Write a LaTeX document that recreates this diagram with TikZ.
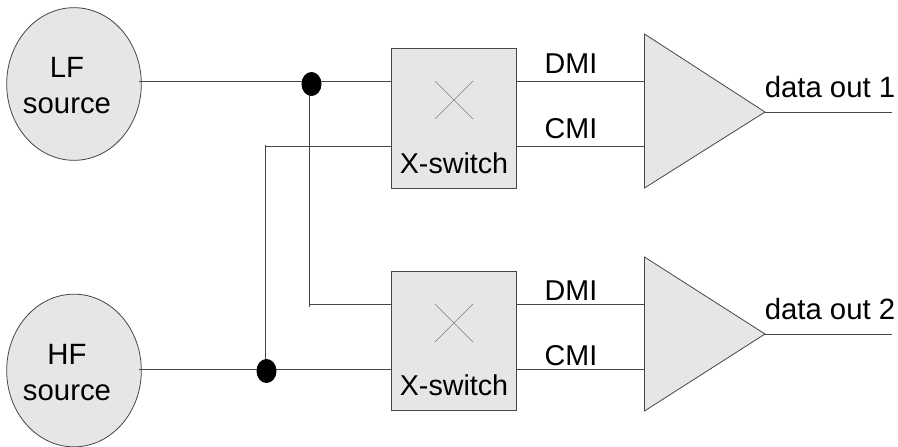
\documentclass[tikz,border=0pt]{standalone}
\usepackage{fontspec}
\setmainfont{Liberation Sans}
\usetikzlibrary{shapes.geometric}
\definecolor{fillg}{RGB}{230,230,230}
\definecolor{edgeg}{RGB}{70,70,70}
\tikzset{
 src/.style={ellipse,draw=edgeg,fill=fillg,line width=0.6pt,minimum width=101pt,minimum height=114.5pt,inner sep=0pt},
 swbox/.style={rectangle,draw=edgeg,fill=fillg,line width=0.7pt,minimum width=93.4pt,minimum height=104.5pt,inner sep=0pt},
 lbl/.style={inner sep=0pt,anchor=base,font=\fontsize{22}{26}\selectfont,text=black},
 lblsm/.style={lbl,font=\fontsize{21.5}{26}\selectfont},
 wire/.style={draw=edgeg,line width=0.6pt},
 xmark/.style={draw=gray,line width=0.5pt},
 amp/.style={draw=edgeg,fill=fillg,line width=0.6pt,line join=miter},
 dotn/.style={ellipse,fill=black,minimum width=15pt,minimum height=18pt,inner sep=0pt}}
\begin{document}
\begin{tikzpicture}[x=0.75pt,y=-0.75pt]
\useasboundingbox (0,0) rectangle (898,446);
\node[src] (lf) at (74,84) {};
\node[src] (hf) at (74,370.5) {};
\node[swbox] (s1) at (454,118.5) {};
\node[swbox] (s2) at (454,341) {};
\node[lbl] at (67,77) {LF};
\node[lbl] at (67,113) {source};
\node[lbl] at (67,364) {HF};
\node[lbl] at (67,400) {source};
\node[lblsm] at (454,173) {X-switch};
\node[lblsm] at (454,395) {X-switch};
\draw[xmark] (435,81) -- (473,119) (435,119) -- (473,81);
\draw[xmark] (435,304) -- (473,342) (435,342) -- (473,304);
\draw[amp] (644.5,34) -- (765,112) coordinate (o1) -- (644.5,188) -- cycle;
\draw[amp] (644.5,257) -- (765,334) coordinate (o2) -- (644.5,411) -- cycle;
\coordinate (a11) at (644,81.5);
\coordinate (a12) at (644,146.5);
\coordinate (a21) at (644,304);
\coordinate (a22) at (644,369);
\coordinate (e1) at (892,112);
\coordinate (e2) at (892,334);
\coordinate (d1) at (311.5,84);
\coordinate (d2) at (266.5,371);
\coordinate (t1) at (265.5,144.5);
\coordinate (t2) at (309.5,307);
\draw[wire] (139,81.5) -- (392,81.5);
\draw[wire] (139,369) -- (392,369);
\draw[wire] (309.5,84) -- (t2);
\draw[wire] (265.5,371) -- (t1);
\draw[wire] (t1 |- 0,146.5) -- (392,146.5);
\draw[wire] (t2 |- 0,304) -- (392,304);
\node[dotn] at (d1) {};
\node[dotn] at (d2) {};
\draw[wire] (s1.east |- a11) -- (a11);
\draw[wire] (s1.east |- a12) -- (a12);
\draw[wire] (s2.east |- a21) -- (a21);
\draw[wire] (s2.east |- a22) -- (a22);
\draw[wire] (o1) -- (e1);
\draw[wire] (o2) -- (e2);
\node[lblsm] at (571,73) {DMI};
\node[lblsm] at (571,138) {CMI};
\node[lblsm] at (571,300) {DMI};
\node[lblsm] at (571,365) {CMI};
\node[lbl] at (830,97) {data out 1};
\node[lbl] at (830,319) {data out 2};
\end{tikzpicture}
\end{document}
